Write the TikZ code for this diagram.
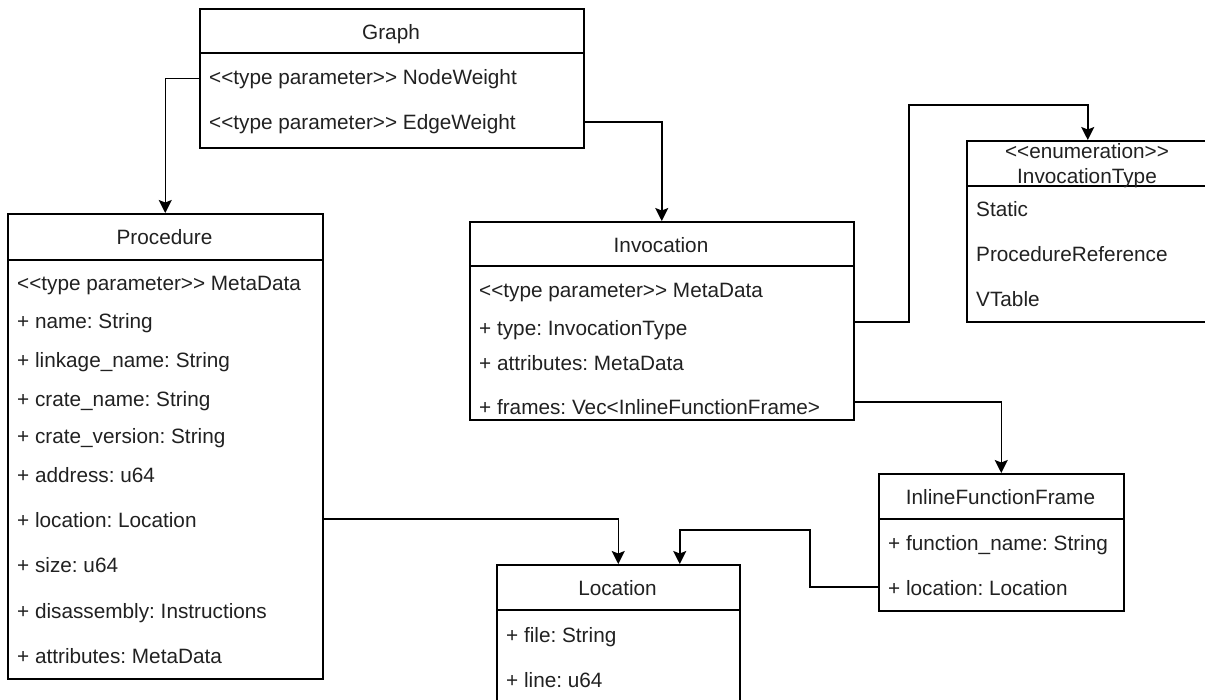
\documentclass[tikz,border=0pt]{standalone}
\usepackage{fontspec}
\setmainfont{Liberation Sans}
\usetikzlibrary{arrows.meta}
\frenchspacing
\newcommand\umlfont{\fontsize{20.75}{24}\selectfont}
\definecolor{umltext}{gray}{0.13}
\tikzset{
  umlbox/.style={draw, line width=1.5pt, anchor=north west, inner sep=0pt, fill=white},
  row/.style={anchor=base west, inner sep=0pt, font=\umlfont, text=umltext},
  title/.style={anchor=base, inner sep=0pt, font=\umlfont, text=umltext},
  divider/.style={line width=1.5pt},
  link/.style={draw, line width=1.5pt, -{Stealth[length=13pt,width=13pt,inset=2.5pt]}},
}
\begin{document}
\begin{tikzpicture}[x=1pt, y=-1pt]
\useasboundingbox (0,0) rectangle (1205,699);
\clip (0,0) rectangle (1205,699);

% ---------- Graph ----------
\node[umlbox, minimum width=384pt, minimum height=139pt] (graph) at (199,8) {};
\draw[divider] ([yshift=-45pt]graph.north west) -- ([yshift=-45pt]graph.north east);
\node[title] (graphT) at (391,39) {Graph};
\node[row] (graph1) at (209,84) {<{}<type parameter>{}> NodeWeight};
\node[row] (graph2) at (209,129) {<{}<type parameter>{}> EdgeWeight};

% ---------- Procedure ----------
\node[umlbox, minimum width=315pt, minimum height=465pt] (proc) at (7,213) {};
\draw[divider] ([yshift=-47pt]proc.north west) -- ([yshift=-47pt]proc.north east);
\node[title] (procT) at (164.5,244) {Procedure};
\node[row] (proc1) at (17,290) {<{}<type parameter>{}> MetaData};
\node[row] (proc2) at (17,328) {+ name: String};
\node[row] (proc3) at (17,367) {+ linkage\_name: String};
\node[row] (proc4) at (17,406) {+ crate\_name: String};
\node[row] (proc5) at (17,443) {+ crate\_version: String};
\node[row] (proc6) at (17,482) {+ address: u64};
\node[row] (proc7) at (17,527) {+ location: Location};
\node[row] (proc8) at (17,572) {+ size: u64};
\node[row] (proc9) at (17,618) {+ disassembly: Instructions};
\node[row] (proc10) at (17,663) {+ attributes: MetaData};

% ---------- Invocation ----------
\node[umlbox, minimum width=384pt, minimum height=198pt] (inv) at (469,221) {};
\draw[divider] ([yshift=-45pt]inv.north west) -- ([yshift=-45pt]inv.north east);
\node[title] (invT) at (661,252) {Invocation};
\node[row] (inv1) at (479,297) {<{}<type parameter>{}> MetaData};
\node[row] (inv2) at (479,335) {+ type: InvocationType};
\node[row] (inv3) at (479,370.5) {+ attributes: MetaData};
\node[row] (inv4) at (479,414) {+ frames: Vec<InlineFunctionFrame>};

% ---------- InvocationType ----------
\node[umlbox, minimum width=242pt, minimum height=181pt] (enum) at (966,140) {};
\draw[divider] ([yshift=-46pt]enum.north west) -- ([yshift=-46pt]enum.north east);
\node[title] (enumS) at (1087,158) {<{}<enumeration>{}>};
\node[title] (enumT) at (1087,183) {InvocationType};
\node[row] (enum1) at (976,216.5) {Static};
\node[row] (enum2) at (976,261.5) {ProcedureReference};
\node[row] (enum3) at (976,306.5) {VTable};

% ---------- InlineFunctionFrame ----------
\node[umlbox, minimum width=245pt, minimum height=137pt] (iff) at (878,473) {};
\draw[divider] ([yshift=-46pt]iff.north west) -- ([yshift=-46pt]iff.north east);
\node[title] (iffT) at (1000.5,504) {InlineFunctionFrame};
\node[row] (iff1) at (888,550) {+ function\_name: String};
\node[row] (iff2) at (888,595) {+ location: Location};

% ---------- Location ----------
\node[umlbox, minimum width=243pt, minimum height=170pt] (loc) at (496,564) {};
\draw[divider] ([yshift=-46pt]loc.north west) -- ([yshift=-46pt]loc.north east);
\node[title] (locT) at (617.5,595) {Location};
\node[row] (loc1) at (506,642) {+ file: String};
\node[row] (loc2) at (506,687) {+ line: u64};

% ---------- Associations ----------
\draw[link] (graph.west) -| (proc.north);
\draw[link] (graph.east |- 0,122) -| (inv.north);
\draw[link] (inv.east |- 0,322) -| (909,105) -| (enum.north);
\draw[link] (inv.east |- 0,402) -| (iff.north);
\draw[link] (proc.east |- 0,519) -| (loc.north);
\draw[link] (iff.west |- 0,587) -| (810,530) -| ([xshift=61.5pt]loc.north);
\end{tikzpicture}
\end{document}
